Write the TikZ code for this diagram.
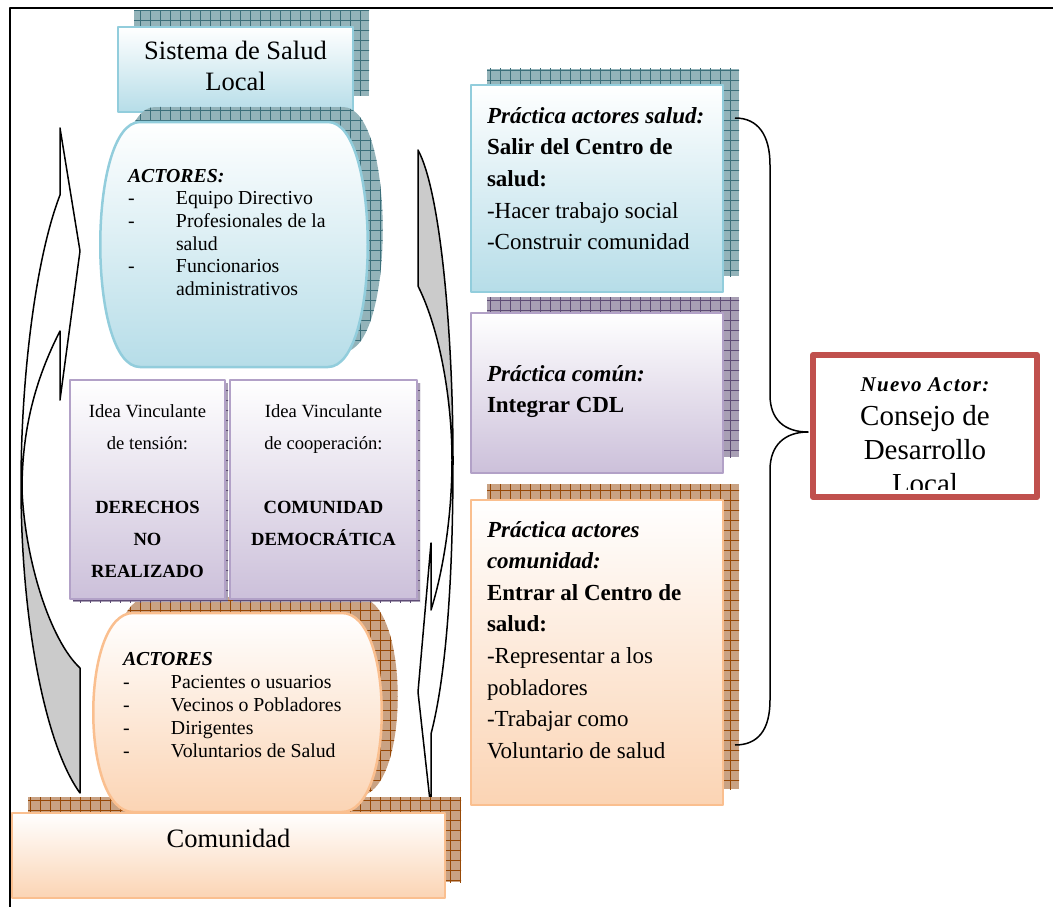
\documentclass[tikz,border=0pt]{standalone}
\usepackage{fontspec}
\setmainfont{Liberation Serif}
\definecolor{blueB}{HTML}{92CDDC}
\definecolor{blueF}{HTML}{B6DDE8}
\definecolor{purpB}{HTML}{B2A1C7}
\definecolor{purpF}{HTML}{CCC0DA}
\definecolor{oranB}{HTML}{FABF8F}
\definecolor{oranF}{HTML}{FBD4B4}
\definecolor{tealS}{HTML}{93B3B9}
\definecolor{tealL}{HTML}{3C6F7A}
\definecolor{purpS}{HTML}{A89FB4}
\definecolor{purpL}{HTML}{5E4C75}
\definecolor{brownS}{HTML}{C9A283}
\definecolor{brownL}{HTML}{974806}
\definecolor{redB}{HTML}{C0504D}
\definecolor{arrG}{HTML}{CBCBCB}
\newcommand{\shrect}[6]{%
  \fill[#5] (#1,#2) rectangle (#3,#4);
  \begin{scope}
    \clip (#1,#2) rectangle (#3,#4);
    \draw[#6, line width=0.6pt, step=10pt] (#1-10,#2-10) grid (#3+10,#4+10);
  \end{scope}}
\newcommand{\barrelp}[5]{%
  \path[#1] ({#2+40},#3) -- ({#4-40},#3) .. controls ({#4+13},#3) and ({#4+13},#5) .. ({#4-40},#5) -- ({#2+40},#5) .. controls ({#2-13},#5) and ({#2-13},#3) .. ({#2+40},#3) -- cycle;}
\newcommand{\barrelshadow}[6]{%
  \begin{scope}
    \barrelp{clip}{#1}{#2}{#3}{#4}
    \fill[#5] (#1-15,#2) rectangle (#3+15,#4);
    \draw[#6, line width=0.6pt, step=10pt] (#1-15,#2-10) grid (#3+15,#4+10);
  \end{scope}}
\begin{document}
\begin{tikzpicture}[x=1pt,y=-1pt,line join=round,
  bluebox/.style={draw=blueB, line width=2.5pt, top color=white, bottom color=blueF},
  purplebox/.style={draw=purpB, line width=2.5pt, top color=white, bottom color=purpF},
  orangebox/.style={draw=oranB, line width=2.5pt, top color=white, bottom color=oranF},
  txt/.style={inner sep=0pt, outer sep=0pt},
  arrline/.style={draw=black, line width=1.5pt}]
\useasboundingbox (0,0) rectangle (1053,907);
% frame
\draw[line width=2pt] (10,907) -- (10,8) -- (1053,8);

% ---- Sistema de Salud Local
\shrect{134}{11}{369}{96}{tealS}{tealL}
\draw[bluebox] (118,27) rectangle (353,112);
\node[txt, anchor=base] (sys) at (235.5,60) {\parbox[t]{230pt}{\centering\fontsize{26.5}{31}\selectfont Sistema de Salud\\Local}};

% ---- top barrel
\barrelshadow{115}{107}{383}{352}{tealS}{tealL}
\barrelp{bluebox}{100}{122}{368}{367}
\node[txt, anchor=base west] (act1) at (128,182) {\parbox[t]{240pt}{\raggedright\fontsize{19.8}{22.7}\selectfont
  \textbf{\textit{ACTORES:}}\\
  \makebox[48pt][l]{-}Equipo Directivo\\
  \makebox[48pt][l]{-}Profesionales de la\\
  \hspace*{48pt}salud\\
  \makebox[48pt][l]{-}Funcionarios\\
  \hspace*{48pt}administrativos}};

% ---- bottom barrel shadow
\barrelshadow{109}{597}{398}{796}{brownS}{brownL}

% ---- idea boxes
\shrect{73}{383}{228}{602}{purpS}{purpL}
\shrect{233}{383}{420}{602}{purpS}{purpL}
\draw[purplebox] (70,380) rectangle (225,599);
\draw[purplebox] (230,380) rectangle (417,599);
\node[txt, anchor=base] (idea1) at (147.5,417) {\parbox[t]{150pt}{\centering\fontsize{18.6}{32}\selectfont
  Idea Vinculante\\de tensión:\\[32pt]\textbf{DERECHOS}\\\textbf{NO}\\\textbf{REALIZADO}}};
\node[txt, anchor=base] (idea2) at (323.5,417) {\parbox[t]{185pt}{\centering\fontsize{18.6}{32}\selectfont
  Idea Vinculante\\de cooperación:\\[32pt]\textbf{COMUNIDAD}\\\textbf{DEMOCRÁTICA}}};

% ---- left curved arrow
\fill[white] (60,195) .. controls (35,260) and (21,380) .. (21,485) -- (22,490) .. controls (22,430) and (35,380) .. (60,331) -- (60,400) -- (80,251) -- (60,128) -- cycle;
\fill[arrG] (21,485) .. controls (21,620) and (45,745) .. (80,793) -- (80,668) .. controls (50,640) and (25,560) .. (22,490) -- cycle;
\draw[arrline] (60,195) .. controls (35,260) and (21,380) .. (21,485) .. controls (21,620) and (45,745) .. (80,793) -- (80,668) .. controls (50,640) and (25,560) .. (22,490) .. controls (22,430) and (35,380) .. (60,331) -- (60,400) -- (80,251) -- (60,128) -- cycle;

% ---- right curved arrow
\fill[arrG] (418,150) .. controls (440,190) and (453,330) .. (453,460) -- (452,460) .. controls (452,400) and (440,330) .. (418,286) -- cycle;
\fill[white] (453,460) .. controls (453,590) and (445,680) .. (431,734) -- (431,810) -- (418,692) -- (431,543) -- (431,610) .. controls (442,575) and (452,520) .. (452,460) -- cycle;
\draw[arrline] (418,150) .. controls (440,190) and (453,330) .. (453,460) .. controls (453,590) and (445,680) .. (431,734) -- (431,810) -- (418,692) -- (431,543) -- (431,610) .. controls (442,575) and (452,520) .. (452,460) .. controls (452,400) and (440,330) .. (418,286) -- cycle;

% ---- Comunidad
\shrect{28}{797}{461}{882}{brownS}{brownL}
\barrelp{orangebox}{93}{613}{382}{812}
\node[txt, anchor=base west] (act2) at (123,665) {\parbox[t]{260pt}{\raggedright\fontsize{19.8}{23}\selectfont
  \textbf{\textit{ACTORES}}\\
  \makebox[48pt][l]{-}Pacientes o usuarios\\
  \makebox[48pt][l]{-}Vecinos o Pobladores\\
  \makebox[48pt][l]{-}Dirigentes\\
  \makebox[48pt][l]{-}Voluntarios de Salud}};
\draw[orangebox] (12,813) rectangle (445,898);
\node[txt, anchor=base] (com) at (228.5,847) {\fontsize{26.5}{31}\selectfont Comunidad};

% ---- right boxes
\shrect{487}{69}{739}{276}{tealS}{tealL}
\draw[bluebox] (471,85) rectangle (723,292);
\node[txt, anchor=base west] (p1) at (487,123) {\parbox[t]{235pt}{\raggedright\fontsize{23}{31.7}\selectfont
  \textbf{\textit{Práctica actores salud:}}\\
  \textbf{Salir del Centro de}\\
  \textbf{salud:}\\
  -Hacer trabajo social\\
  -Construir comunidad}};

\shrect{487}{297}{739}{457}{purpS}{purpL}
\draw[purplebox] (471,313) rectangle (723,473);
\node[txt, anchor=base west] (p2) at (487,381) {\parbox[t]{235pt}{\raggedright\fontsize{23}{31.5}\selectfont
  \textbf{\textit{Práctica común:}}\\
  \textbf{Integrar CDL}}};

\shrect{487}{484}{739}{789}{brownS}{brownL}
\draw[orangebox] (471,500) rectangle (723,805);
\node[txt, anchor=base west] (p3) at (487,537) {\parbox[t]{235pt}{\raggedright\fontsize{23}{31.6}\selectfont
  \textbf{\textit{Práctica actores}}\\
  \textbf{\textit{comunidad:}}\\
  \textbf{Entrar al Centro de}\\
  \textbf{salud:}\\
  -Representar a los\\
  pobladores\\
  -Trabajar como\\
  Voluntario de salud}};

% ---- brace
\coordinate (bt) at (735,118);
\coordinate (bb) at (735,745);
\coordinate (tip) at (808,432);
\draw[line width=1.5pt] (bt) .. controls (758,118) and (770,135) .. (770,165) -- (770,395) .. controls (770,420) and (785,432) .. (tip) .. controls (785,432) and (770,445) .. (770,470) -- (770,700) .. controls (770,730) and (758,745) .. (bb);

% ---- Nuevo actor
\begin{scope}
  \clip (815,357) rectangle (1035,489);
  \node[txt, anchor=base] (na) at (925,391) {\parbox[t]{220pt}{\centering
    {\fontsize{21}{24}\selectfont\bfseries\itshape\addfontfeatures{LetterSpace=6}Nuevo Actor:}\par
    \fontsize{29}{34}\selectfont Consejo de\\Desarrollo\\Local}};
\end{scope}
\node[draw=redB, line width=6pt, minimum width=224pt, minimum height=142pt, inner sep=0pt] (red) at (925,426) {};
\end{tikzpicture}
\end{document}
